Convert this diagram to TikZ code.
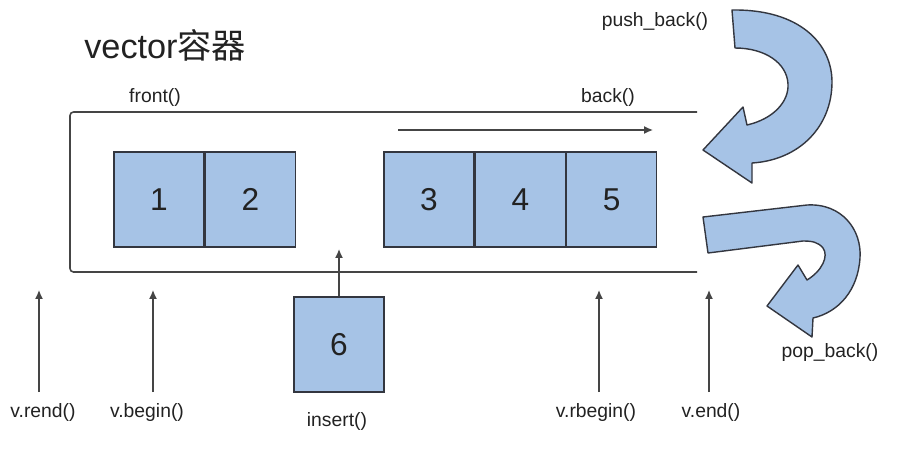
\documentclass[tikz,border=0pt]{standalone}
\usepackage{fontspec}
\setmainfont{Liberation Sans}
\newfontfamily\cjk{Noto Sans CJK SC}
\usepackage{tikz}
\usetikzlibrary{arrows.meta,positioning}
\definecolor{cellblue}{HTML}{A6C3E6}
\definecolor{celledge}{HTML}{33363F}
\definecolor{linegray}{HTML}{454545}
\definecolor{txtgray}{HTML}{222222}
\tikzset{
  % light blue element cell with a dark outline
  cell/.style  = {rectangle, draw=celledge, fill=cellblue, line width=0.8pt,
                  minimum width=1.8cm, minimum height=1.9cm, inner sep=0pt,
                  font=\fontsize{18}{20}\selectfont, text=txtgray},
  arr/.style   = {-{Latex[length=5pt,width=4.5pt]}, line width=0.8pt, linegray},
  wall/.style  = {line width=0.9pt, linegray, rounded corners=2pt},
  lbl/.style   = {font=\fontsize{11}{13}\selectfont, text=txtgray, inner sep=1pt},
  curlarrow/.style = {draw=celledge, fill=cellblue, line width=0.8pt, line join=round},
}

\begin{document}
\begin{tikzpicture}[x=0.02cm, y=-0.02cm, node distance=0pt]
\useasboundingbox (0,0) rectangle (920,457);
% --- title ------------------------------------------------------------
\node[anchor=west, inner sep=0pt, text=txtgray, font=\fontsize{19.5}{22}\selectfont]
  (title) at (84,45) {vector{\cjk 容器}};

% --- container (open on the right) ------------------------------------
\draw[wall] (697,112) -- (70,112) -- (70,272) -- (697,272);

% --- cells ------------------------------------------------------------
\node[cell] (c1) at (159,199.5) {1};
\node[cell, right=of c1] (c2) {2};
\node[cell] (c3) at (429,199.5) {3};
\node[cell, right=of c3] (c4) {4};
\node[cell, right=of c4] (c5) {5};
\node[cell] (c6) at (339,344.5) {6};

% --- labels -----------------------------------------------------------
\node[lbl] (front)  at (155,97)  {front()};
\node[lbl] (back)   at (608,97)  {back()};
\node[lbl] (push)   at (655,22)  {push\_back()};
\node[lbl] (pop)    at (830,352) {pop\_back()};
\node[lbl] (insert) at (337,421) {insert()};
\node[lbl] (rend)   at (43,412)  {v.rend()};
\node[lbl] (begin)  at (147,412) {v.begin()};
\node[lbl] (rbegin) at (596,412) {v.rbegin()};
\node[lbl] (end)    at (711,412) {v.end()};

% --- arrows -----------------------------------------------------------
\coordinate (dirA) at (398,130);
\coordinate (dirB) at (653,130);
\draw[arr] (dirA) -- (dirB);
\coordinate (ins) at (339,249);
\draw[arr] (c6.north -| ins) -- (ins);
\foreach \n/\x in {rend/39, begin/153, rbegin/599, end/709} {
  \coordinate (\n-lo) at (\x,392);
  \coordinate (\n-hi) at (\x,290);
  \draw[arr] (\n-lo) -- (\n-hi);
}

% --- push_back / pop_back curled arrows -------------------------------
\path[curlarrow] (732,10) .. controls (800,9) and (832,44) .. (832,82)
  .. controls (832,126) and (800,160) .. (752,163)
  -- (752,183) -- (703,150) -- (743,107) -- (747,125)
  .. controls (773,119) and (789,102) .. (788,84)
  .. controls (787,63) and (765,48) .. (735,48) -- cycle;
\path[curlarrow] (703,217) -- (807,205) .. controls (842,203) and (862,230) .. (860,258)
  .. controls (858,290) and (839,312) .. (813,318)
  -- (812,337) -- (767,306) -- (798,265) -- (807,280)
  .. controls (822,271) and (829,256) .. (823,248)
  .. controls (818,242) and (812,241) .. (803,241) -- (708,253) -- cycle;
\end{tikzpicture}
\end{document}
